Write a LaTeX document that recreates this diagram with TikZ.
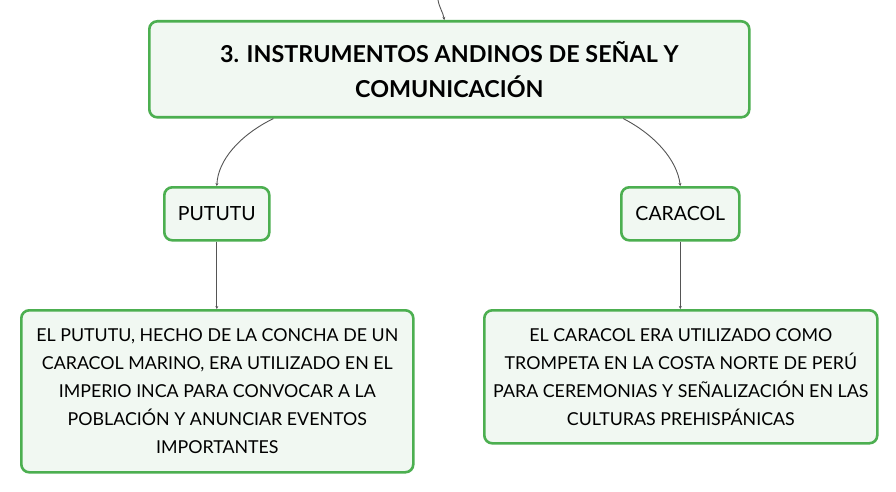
\documentclass[tikz,border=0pt]{standalone}
\usepackage{fontspec}
\setmainfont{Lato}
\usetikzlibrary{arrows.meta}
\definecolor{bordergreen}{HTML}{4CAF50}
\definecolor{fillgreen}{HTML}{F1F8F2}
\definecolor{linegray}{HTML}{555555}
\tikzset{
  box/.style={draw=bordergreen, line width=2.6pt, fill=fillgreen, rounded corners=8pt, inner sep=0pt},
  conn/.style={draw=linegray, line width=0.9pt, -{Stealth[length=3pt,width=3pt]}},
  bodytext/.style={align=center, font=\fontsize{17.8}{28}\selectfont},
  labeltext/.style={font=\fontsize{19.5}{22}\selectfont},
}
\begin{document}
\begin{tikzpicture}[x=1pt,y=-1pt]
\useasboundingbox (0,0) rectangle (896,492);
\fill[white] (0,0) rectangle (896,492);
\node[box, minimum width=600pt, minimum height=96pt, anchor=north west] (main) at (148,20) {};
\node[align=center, font=\fontsize{23.3}{35}\selectfont\bfseries] (maint) at (main.center) {3. INSTRUMENTOS ANDINOS DE SEÑAL Y\\COMUNICACIÓN};
\node[box, minimum width=105pt, minimum height=53pt, anchor=north west] (pututu) at (163,186) {};
\node[labeltext] (pututut) at (pututu.center) {PUTUTU};
\node[box, minimum width=118pt, minimum height=53pt, anchor=north west] (caracol) at (620,186) {};
\node[labeltext] (caracolt) at (caracol.center) {CARACOL};
\node[box, minimum width=392pt, minimum height=162pt, anchor=north west] (desc1) at (20,309) {};
\node[bodytext] (desc1t) at (desc1.center) {EL PUTUTU, HECHO DE LA CONCHA DE UN\\CARACOL MARINO, ERA UTILIZADO EN EL\\IMPERIO INCA PARA CONVOCAR A LA\\POBLACIÓN Y ANUNCIAR EVENTOS\\IMPORTANTES};
\node[box, minimum width=393pt, minimum height=133pt, anchor=north west] (desc2) at (483,309) {};
\node[bodytext] (desc2t) at (desc2.center) {EL CARACOL ERA UTILIZADO COMO\\TROMPETA EN LA COSTA NORTE DE PERÚ\\PARA CEREMONIAS Y SEÑALIZACIÓN EN LAS\\CULTURAS PREHISPÁNICAS};
\coordinate (top) at (438,0);
\draw[conn] (top) to[out=-80,in=100] ([xshift=-5pt]main.north);
\draw[conn] ([xshift=-176pt]main.south) .. controls (240,135) and (218,160) .. (pututu.north);
\draw[conn] ([xshift=174pt]main.south) .. controls (655,135) and (677,160) .. (caracol.north);
\draw[conn] (pututu.south) -- (desc1.north -| pututu.south);
\draw[conn] (caracol.south) -- (desc2.north -| caracol.south);
\end{tikzpicture}
\end{document}
